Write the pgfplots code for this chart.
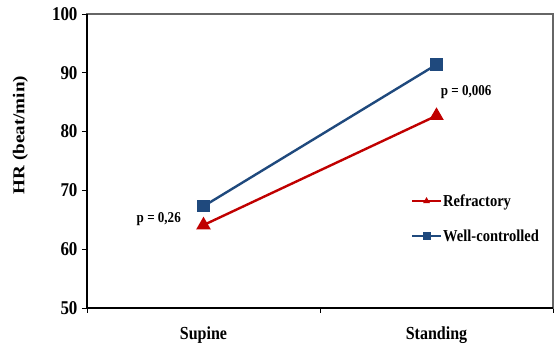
\documentclass[border=0pt]{standalone}
\usepackage{pgfplots}
\pgfplotsset{compat=1.18}
\usepackage{fontspec}
\setmainfont{Liberation Serif}[FakeStretch=0.87]
\newfontfamily\vfont{Liberation Serif}[FakeStretch=1.15]
\definecolor{cred}{RGB}{192,0,0}
\definecolor{cblue}{RGB}{31,73,125}
\begin{document}
\begin{tikzpicture}
\useasboundingbox (-87pt,-39pt) rectangle (471pt,308pt);
\begin{axis}[
  at={(0pt,0pt)}, anchor=south west,
  scale only axis, width=466pt, height=294pt,
  xmin=0, xmax=2, ymin=50, ymax=100,
  xtick={0,1,2}, xticklabels={Supine,Standing},
  x tick label as interval,
  ytick={50,60,70,80,90,100},
  tick pos=left,
  tick align=outside, major tick length=5pt,
  tick style={black, line width=0.8pt},
  axis line style={draw=black!60, line width=1.2pt},
  ylabel={\vfont\bfseries HR (beat/min)},
  ylabel style={font=\fontsize{16.6}{19}\selectfont, at={(axis description cs:-0.1427,0.588)}, anchor=center},
  ticklabel style={font=\bfseries\fontsize{19.5}{21}\selectfont},
  yticklabel style={xshift=-1pt},
  xticklabel style={font=\bfseries\fontsize{18.4}{20}\selectfont, yshift=-10pt},
  /pgf/number format/assume math mode=true,
  legend style={draw=none, fill=none, at={(axis cs:1.389,65.2)}, anchor=west,
    font=\bfseries\fontsize{16.7}{18}\selectfont, row sep=20pt, inner sep=0pt,
    nodes={inner sep=1pt}},
  legend cell align=left,
  legend image code/.code={
    \draw[#1, mark=none] (0pt,0pt) -- (29pt,0pt);
    \draw[#1, draw opacity=0, mark size=4pt] plot coordinates {(14.5pt,0pt)};
  },
  clip=false,
]
\addplot[cred, line width=2.4pt, mark=triangle*, mark size=6pt] coordinates {(0.5,64.1) (1.5,82.7)};
\addlegendentry{Refractory}
\addplot[cblue, line width=2.4pt, mark=square*, mark size=5pt] coordinates {(0.5,67.3) (1.5,91.4)};
\addlegendentry{Well-controlled}
\node[font=\bfseries\fontsize{15}{17}\selectfont] at (axis cs:0.308,65.1) {p = 0,26};
\node[font=\bfseries\fontsize{15}{17}\selectfont] at (axis cs:1.627,86.7) {p = 0,006};
\draw[black, line width=1.2pt] (rel axis cs:0,1) -- (rel axis cs:0,0) -- (rel axis cs:1,0);
\end{axis}
\end{tikzpicture}
\end{document}
